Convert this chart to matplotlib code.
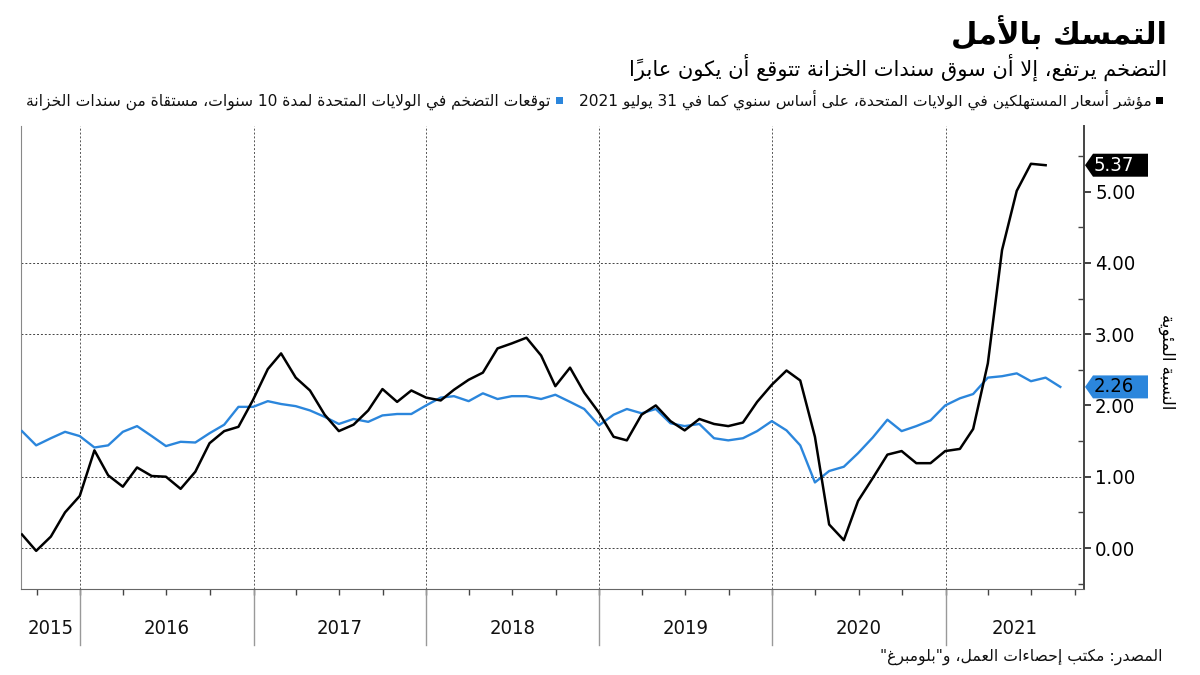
import matplotlib
matplotlib.use("Agg")
import matplotlib.pyplot as plt
import matplotlib.dates as mdates
import matplotlib.transforms as mtransforms
from matplotlib.patches import Polygon, Rectangle
import pandas as pd

# monthly values (month-end)
cpi_yoy = [
    0.19, -0.04, 0.16, 0.50, 0.73,                                            # 2015 Aug-Dec
    1.37, 1.02, 0.86, 1.13, 1.01, 1.00, 0.83, 1.07, 1.47, 1.64, 1.70, 2.08,   # 2016
    2.51, 2.73, 2.39, 2.21, 1.87, 1.64, 1.73, 1.93, 2.23, 2.05, 2.21, 2.11,   # 2017
    2.07, 2.22, 2.36, 2.46, 2.80, 2.87, 2.95, 2.70, 2.27, 2.53, 2.18, 1.90,   # 2018
    1.56, 1.51, 1.87, 2.00, 1.78, 1.65, 1.81, 1.74, 1.71, 1.76, 2.05, 2.29,   # 2019
    2.49, 2.35, 1.56, 0.33, 0.11, 0.66, 0.98, 1.31, 1.36, 1.19, 1.19, 1.36,   # 2020
    1.39, 1.67, 2.59, 4.18, 5.01, 5.39, 5.37,                                 # 2021 Jan-Jul
]
breakeven_10y = [
    1.64, 1.44, 1.54, 1.63, 1.57,
    1.41, 1.44, 1.63, 1.71, 1.57, 1.43, 1.49, 1.48, 1.61, 1.73, 1.98, 1.98,
    2.06, 2.02, 1.99, 1.93, 1.84, 1.74, 1.81, 1.77, 1.86, 1.88, 1.88, 2.00,
    2.11, 2.13, 2.06, 2.17, 2.09, 2.13, 2.13, 2.09, 2.15, 2.05, 1.95, 1.72,
    1.87, 1.95, 1.89, 1.95, 1.75, 1.71, 1.74, 1.54, 1.51, 1.54, 1.64, 1.78,
    1.65, 1.44, 0.92, 1.08, 1.14, 1.33, 1.55, 1.80, 1.64, 1.71, 1.79, 2.00,
    2.10, 2.16, 2.39, 2.41, 2.45, 2.34, 2.39, 2.26,                           # 2021 Jan-Aug
]
cpi_dates = pd.date_range("2015-08-31", periods=len(cpi_yoy), freq="ME")
be_dates = pd.date_range("2015-08-31", periods=len(breakeven_10y), freq="ME")
years = [2015, 2016, 2017, 2018, 2019, 2020, 2021]
y_ticks = [0, 1, 2, 3, 4, 5]
grid_levels = [0, 1, 3, 4]

title = "التمسك بالأمل"
subtitle = "التضخم يرتفع، إلا أن سوق سندات الخزانة تتوقع أن يكون عابراً"
legend_cpi = "مؤشر أسعار المستهلكين في الولايات المتحدة، على أساس سنوي كما في 31 يوليو 2021"
legend_be = "توقعات التضخم في الولايات المتحدة لمدة 10 سنوات، مستقاة من سندات الخزانة"
y_label = "النسبة المئوية"
source = 'المصدر: مكتب إحصاءات العمل، و"بلومبرغ"'

BLUE = "#2B86DC"
W, H = 1200, 675

# --- minimal arabic shaping (matplotlib has no text shaping) ---
FORMS = {
    "\u0621": (0xFE80, 1), "\u0622": (0xFE81, 2), "\u0623": (0xFE83, 2),
    "\u0624": (0xFE85, 2), "\u0625": (0xFE87, 2), "\u0626": (0xFE89, 4),
    "\u0627": (0xFE8D, 2), "\u0628": (0xFE8F, 4), "\u0629": (0xFE93, 2),
    "\u062A": (0xFE95, 4), "\u062B": (0xFE99, 4), "\u062C": (0xFE9D, 4),
    "\u062D": (0xFEA1, 4), "\u062E": (0xFEA5, 4), "\u062F": (0xFEA9, 2),
    "\u0630": (0xFEAB, 2), "\u0631": (0xFEAD, 2), "\u0632": (0xFEAF, 2),
    "\u0633": (0xFEB1, 4), "\u0634": (0xFEB5, 4), "\u0635": (0xFEB9, 4),
    "\u0636": (0xFEBD, 4), "\u0637": (0xFEC1, 4), "\u0638": (0xFEC5, 4),
    "\u0639": (0xFEC9, 4), "\u063A": (0xFECD, 4), "\u0641": (0xFED1, 4),
    "\u0642": (0xFED5, 4), "\u0643": (0xFED9, 4), "\u0644": (0xFEDD, 4),
    "\u0645": (0xFEE1, 4), "\u0646": (0xFEE5, 4), "\u0647": (0xFEE9, 4),
    "\u0648": (0xFEED, 2), "\u0649": (0xFEEF, 2), "\u064A": (0xFEF1, 4),
}
LAM_ALEF = {"\u0622": 0xFEF5, "\u0623": 0xFEF7, "\u0625": 0xFEF9, "\u0627": 0xFEFB}


def n_forms(b):
    if b.startswith("LA"):
        return 2
    return FORMS[b][1] if b in FORMS else 0


def ar(text):
    units = []
    for ch in text:
        if "\u064B" <= ch <= "\u065F" and units:
            units[-1][1] += ch
        else:
            units.append([ch, ""])
    merged = []
    i = 0
    while i < len(units):
        b, m = units[i]
        if b == "\u0644" and i + 1 < len(units) and units[i + 1][0] in LAM_ALEF:
            merged.append(["LA" + units[i + 1][0], m + units[i + 1][1]])
            i += 2
        else:
            merged.append([b, m])
            i += 1
    out = []
    for i, (b, m) in enumerate(merged):
        n = n_forms(b)
        if n == 0:
            out.append(b + m)
            continue
        prev_j = i > 0 and n_forms(merged[i - 1][0]) == 4
        next_j = n == 4 and i + 1 < len(merged) and n_forms(merged[i + 1][0]) >= 1 \
            and merged[i + 1][0] != "\u0621"
        if b.startswith("LA"):
            g = LAM_ALEF[b[2]] + (1 if prev_j else 0)
        else:
            s = FORMS[b][0]
            if n == 1:
                g = s
            elif prev_j and next_j:
                g = s + 3
            elif prev_j:
                g = s + 1
            elif next_j:
                g = s + 2
            else:
                g = s
        out.append(chr(g) + m)
    out = out[::-1]
    # put digit runs back in left-to-right order
    res, run = [], []
    for c in out:
        if c.isascii() and c.isdigit():
            run.append(c)
        else:
            res.extend(run[::-1])
            run = []
            res.append(c)
    res.extend(run[::-1])
    return "".join(res)


AR_FONT = ["DejaVu Sans"]
NUM = dict(family=["DejaVu Sans"], fontstretch="condensed")

fig = plt.figure(figsize=(W / 100, H / 100), dpi=100)
renderer = fig.canvas.get_renderer()


def fit_text(x_right, y_base, s, width_px, **kw):
    t = fig.text(x_right / W, 1 - y_base / H, s, ha="right", va="baseline",
                 family=AR_FONT, **kw)
    w = t.get_window_extent(renderer).width
    t.set_fontsize(t.get_fontsize() * width_px / w)
    return t


ax = fig.add_axes([21 / W, 1 - 589 / H, (1084 - 21) / W, (589 - 126) / H])
ax.plot(be_dates, breakeven_10y, color=BLUE, lw=1.7, zorder=3)
ax.plot(cpi_dates, cpi_yoy, color="black", lw=1.8, zorder=4)

x0, x1 = pd.Timestamp("2015-08-29"), pd.Timestamp("2021-10-20")
ax.set_xlim(x0, x1)
ax.set_ylim(-0.575, 5.92)

for v in grid_levels:
    ax.axhline(v, color="#444", lw=0.7, ls=(0, (2, 2)), zorder=1)
for yr in years[1:]:
    ax.axvline(pd.Timestamp(f"{yr}-01-01"), color="#555", lw=0.7, ls=(0, (2, 2)), zorder=1)

ax.spines["top"].set_visible(False)
ax.spines["left"].set_color("#888")
ax.spines["bottom"].set_color("#666")
ax.spines["right"].set_color("#444")
ax.spines["right"].set_linewidth(1.4)

ax.yaxis.tick_right()
ax.set_yticks(y_ticks)
ax.set_yticklabels([f"{v:.2f}" for v in y_ticks], fontsize=14.5, **NUM)
ax.set_yticks([v + 0.5 for v in range(-1, 6)], minor=True)
ax.tick_params(axis="y", which="major", direction="out", length=5, width=1.2,
               color="#222", pad=3)
ax.tick_params(axis="y", which="minor", direction="in", length=4, width=1, color="#444")

quarters = pd.date_range("2015-10-01", "2021-10-01", freq="QS")
ax.set_xticks(quarters)
ax.set_xticklabels([])
ax.tick_params(axis="x", which="major", direction="out", length=4, width=1, color="#444")

# year bands under the axis
tr = mtransforms.blended_transform_factory(ax.transData, ax.transAxes)
lo, hi = mdates.date2num(x0), mdates.date2num(x1)
for yr in years:
    a = max(mdates.date2num(pd.Timestamp(f"{yr}-01-01")), lo)
    b = min(mdates.date2num(pd.Timestamp(f"{yr + 1}-01-01")), hi)
    ax.text((a + b) / 2, -(628 - 589) / 463, str(yr), transform=tr, ha="center",
            va="center", fontsize=14.5, color="#111", **NUM)
    if yr > years[0]:
        ax.plot([a, a], [0, -(645 - 589) / 463], transform=tr, color="#999", lw=1,
                clip_on=False)

# value tags at the right of the axis
tag_tr = mtransforms.blended_transform_factory(ax.transAxes, ax.transData)


def value_tag(value, face, text_color):
    px = lambda p: (p - 21) / 1063
    h = 11.5 / 71.3
    pts = [(px(1085), value), (px(1093), value + h), (px(1148), value + h),
           (px(1148), value - h), (px(1093), value - h)]
    ax.add_patch(Polygon(pts, closed=True, transform=tag_tr, facecolor=face,
                         edgecolor="none", clip_on=False, zorder=6))
    ax.text(px(1114), value, f"{value:.2f}", transform=tag_tr, ha="center",
            va="center", fontsize=14.5, color=text_color, zorder=7, **NUM)


value_tag(cpi_yoy[-1], "black", "white")
value_tag(breakeven_10y[-1], BLUE, "black")

fig.text(1167 / W, 1 - 362 / H, ar(y_label), rotation=270, ha="center", va="center",
         family=AR_FONT, fontsize=12)

# header
fit_text(1167, 44, ar(title), 217, fontsize=24, weight="bold", color="black")
fit_text(1167, 76, ar(subtitle), 539, fontsize=16, color="black")
fit_text(1152, 106, ar(legend_cpi), 572, fontsize=11, color="#111")
fit_text(550, 106, ar(legend_be), 522, fontsize=11, color="#111")
fig.add_artist(Rectangle((1156 / W, 1 - 104 / H), 7 / W, 7 / H, transform=fig.transFigure,
                         facecolor="black", edgecolor="none"))
fig.add_artist(Rectangle((556 / W, 1 - 104 / H), 7 / W, 7 / H, transform=fig.transFigure,
                         facecolor=BLUE, edgecolor="none"))

fit_text(1163, 661, ar(source), 281, fontsize=11, color="#111")

fig.savefig("out.png", dpi=100)
